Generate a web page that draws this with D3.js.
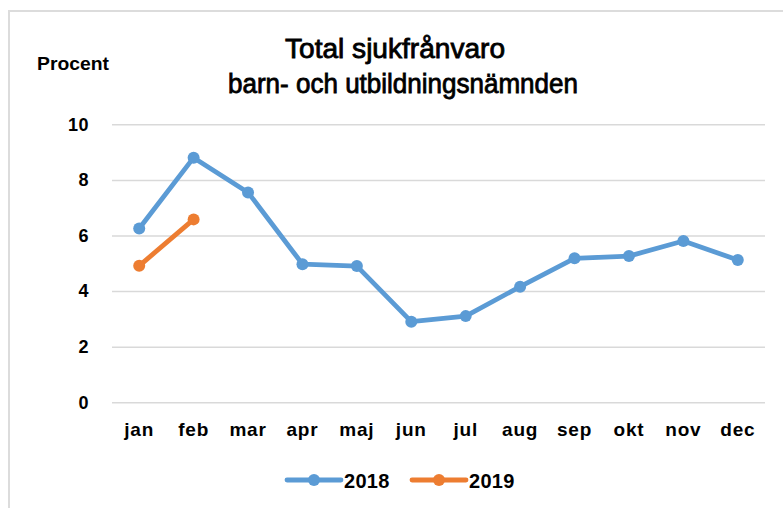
<!DOCTYPE html>
<html>
<head>
<meta charset="utf-8">
<script src="https://cdn.jsdelivr.net/npm/d3@7"></script>
<style>
  html, body { margin: 0; padding: 0; background: #fff; }
  svg { display: block; }
  text { font-family: "Liberation Sans", Arial, sans-serif; fill: #000; }
</style>
</head>
<body>
<div id="chart"></div>
<script>
const months = ["jan","feb","mar","apr","maj","jun","jul","aug","sep","okt","nov","dec"];
const values2018 = [6.25, 8.8, 7.55, 4.97, 4.9, 2.9, 3.1, 4.16, 5.18, 5.26, 5.8, 5.12];
const values2019 = [4.91, 6.58, null, null, null, null, null, null, null, null, null, null];
const seriesNames = ["2018", "2019"];
const seriesColors = ["#5B9BD5", "#ED7D31"];
const yTicks = [0, 2, 4, 6, 8, 10];
const titleLines = ["Total sjukfrånvaro", "barn- och utbildningsnämnden"];
const yAxisLabel = "Procent";

const W = 783, H = 508;
const svg = d3.select("#chart").append("svg").attr("width", W).attr("height", H);

// outer chart frame (top + left visible)
svg.append("line").attr("x1", 8).attr("x2", W).attr("y1", 11).attr("y2", 11)
  .attr("stroke", "#dcdcdc").attr("stroke-width", 2);
svg.append("line").attr("x1", 9).attr("x2", 9).attr("y1", 11).attr("y2", H)
  .attr("stroke", "#dcdcdc").attr("stroke-width", 2);

const x = d3.scaleBand().domain(months).range([112, 765]).padding(0);
const y = d3.scaleLinear().domain([0, 10]).range([402.3, 124.3]);
const cx = m => x(m) + x.bandwidth() / 2;

// y axis + gridlines
const yAxis = d3.axisLeft(y).tickValues(yTicks).tickSize(-(765 - 112)).tickPadding(23).tickFormat(d3.format("d"));
const gy = svg.append("g").attr("transform", "translate(112,0)").call(yAxis);
gy.select(".domain").remove();
gy.selectAll(".tick line").attr("stroke", "#d9d9d9").attr("stroke-width", 1.5);
gy.selectAll(".tick text").attr("font-size", 18).attr("font-weight", "bold")
  .attr("font-family", "Liberation Sans, Arial, sans-serif").attr("fill", "#000")
  .attr("letter-spacing", 0.5);

// x axis
const xAxis = d3.axisBottom(x).tickSize(0).tickPadding(0);
const gx = svg.append("g").attr("transform", `translate(0,${y(0)})`).call(xAxis);
gx.select(".domain").remove();
gx.selectAll(".tick text").attr("dy", null).attr("y", 33.7)
  .attr("font-size", 19).attr("font-weight", "bold")
  .attr("font-family", "Liberation Sans, Arial, sans-serif").attr("fill", "#000")
  .attr("letter-spacing", 0.8);

// title
svg.append("text").attr("x", 285).attr("y", 58).attr("font-size", 27)
  .attr("textLength", 220).attr("lengthAdjust", "spacingAndGlyphs")
  .attr("stroke", "#000").attr("stroke-width", 0.8)
  .text(titleLines[0]);
svg.append("text").attr("x", 228).attr("y", 93).attr("font-size", 27)
  .attr("textLength", 350).attr("lengthAdjust", "spacingAndGlyphs")
  .attr("stroke", "#000").attr("stroke-width", 0.8)
  .text(titleLines[1]);

// y axis label
svg.append("text").attr("x", 37).attr("y", 70).attr("font-size", 18)
  .attr("font-weight", "bold").attr("textLength", 72).attr("lengthAdjust", "spacingAndGlyphs")
  .text(yAxisLabel);

// series
const series = [
  { name: seriesNames[0], color: seriesColors[0], values: values2018 },
  { name: seriesNames[1], color: seriesColors[1], values: values2019 }
];
const line = d3.line()
  .defined(d => d.v !== null)
  .x(d => cx(d.m))
  .y(d => y(d.v));

series.forEach(s => {
  const pts = months.map((m, i) => ({ m, v: s.values[i] }));
  svg.append("path").datum(pts)
    .attr("d", line).attr("fill", "none")
    .attr("stroke", s.color).attr("stroke-width", 4.8)
    .attr("stroke-linejoin", "round").attr("stroke-linecap", "round");
  svg.append("g").selectAll("circle").data(pts.filter(d => d.v !== null)).join("circle")
    .attr("cx", d => cx(d.m)).attr("cy", d => y(d.v)).attr("r", 6)
    .attr("fill", s.color);
});

// legend
const legendX = [287, 412];
series.forEach((s, i) => {
  const g = svg.append("g").attr("transform", `translate(${legendX[i]},480)`);
  g.append("line").attr("x1", 0).attr("x2", 54).attr("y1", 0).attr("y2", 0)
    .attr("stroke", s.color).attr("stroke-width", 4.8).attr("stroke-linecap", "round");
  g.append("circle").attr("cx", 27).attr("cy", 0).attr("r", 6).attr("fill", s.color);
  g.append("text").attr("x", 57).attr("y", 7.5).attr("font-size", 20)
    .attr("font-weight", "bold").attr("letter-spacing", 0.3).text(s.name);
});
</script>
</body>
</html>
